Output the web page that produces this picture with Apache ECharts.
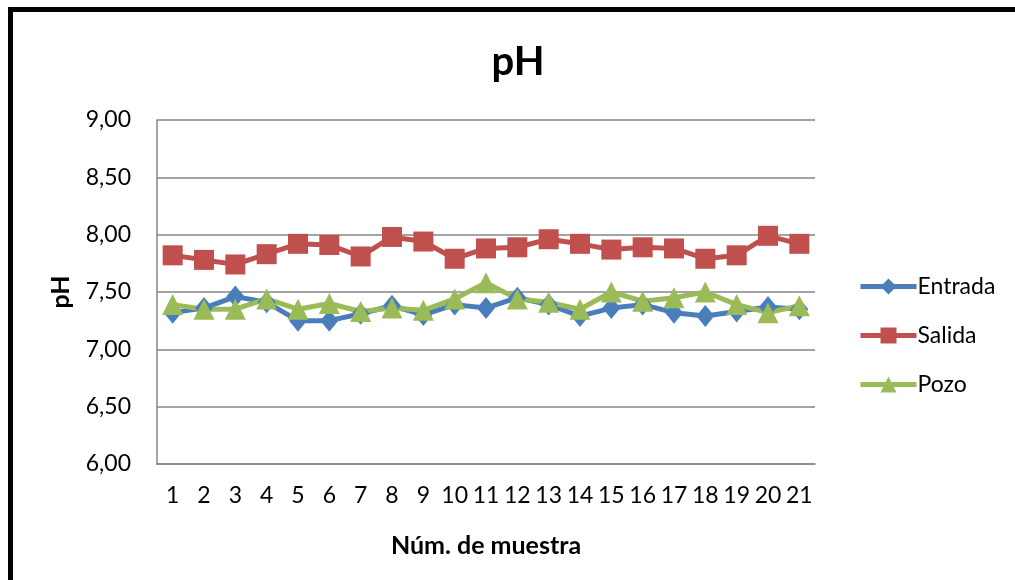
<!DOCTYPE html>
<html>
<head>
<meta charset="utf-8">
<script src="https://cdn.jsdelivr.net/npm/echarts@6/dist/echarts.min.js"></script>
<style>
  html, body { margin: 0; padding: 0; background: #fff; }
  #chart { width: 1015px; height: 580px; }
</style>
</head>
<body>
<div id="chart"></div>
<script>
const muestras = ['1','2','3','4','5','6','7','8','9','10','11','12','13','14','15','16','17','18','19','20','21'];
const entrada = [7.32, 7.36, 7.46, 7.41, 7.25, 7.25, 7.31, 7.38, 7.30, 7.39, 7.36, 7.45, 7.39, 7.29, 7.36, 7.39, 7.32, 7.29, 7.33, 7.37, 7.35];
const salida = [7.82, 7.78, 7.74, 7.83, 7.92, 7.91, 7.81, 7.98, 7.94, 7.79, 7.88, 7.89, 7.96, 7.92, 7.87, 7.89, 7.88, 7.79, 7.82, 7.99, 7.92];
const pozo = [7.39, 7.35, 7.35, 7.44, 7.35, 7.40, 7.33, 7.36, 7.34, 7.44, 7.58, 7.44, 7.41, 7.35, 7.50, 7.42, 7.45, 7.50, 7.39, 7.32, 7.38];

const font = 'Lato, "Open Sans", sans-serif';
const chart = echarts.init(document.getElementById('chart'));

function serie(name, data, color, symbol, size) {
  return {
    name: name,
    type: 'line',
    data: data,
    symbol: symbol,
    symbolSize: size,
    showAllSymbol: true,
    lineStyle: { color: color, width: 5 },
    itemStyle: { color: color },
    emphasis: { disabled: true }
  };
}

chart.setOption({
  animation: false,
  textStyle: { fontFamily: font },
  title: {
    text: 'pH',
    left: 513,
    textAlign: 'center',
    top: 37,
    textStyle: { fontSize: 40, fontWeight: 'bold', color: '#000', fontFamily: font }
  },
  graphic: [{
    type: 'rect',
    shape: { x: 10.5, y: 9.5, width: 1100, height: 700 },
    style: { fill: 'none', stroke: '#000', lineWidth: 5 }
  }],
  legend: {
    orient: 'vertical',
    left: 853,
    top: 270,
    itemWidth: 56,
    itemHeight: 20,
    itemGap: 26,
    lineStyle: { width: 5 },
    textStyle: { fontSize: 23, color: '#000', fontFamily: font, padding: [0, 0, 0, -4] },
    data: ['Entrada', 'Salida', 'Pozo']
  },
  grid: { left: 157, right: 200, top: 120, bottom: 116, containLabel: false },
  xAxis: {
    type: 'category',
    data: muestras,
    name: 'Núm. de muestra',
    nameLocation: 'middle',
    nameGap: 69,
    nameTextStyle: { fontSize: 25, fontWeight: 'bold', color: '#000', fontFamily: font },
    axisLine: { lineStyle: { color: '#868686', width: 1.5 } },
    axisTick: { show: false },
    axisLabel: { fontSize: 23, color: '#000', margin: 20, interval: 0, fontFamily: font }
  },
  yAxis: {
    type: 'value',
    min: 6,
    max: 9,
    interval: 0.5,
    name: 'pH',
    nameLocation: 'middle',
    nameRotate: 90,
    nameGap: 84,
    nameTextStyle: { fontSize: 25, fontWeight: 'bold', color: '#000', fontFamily: font },
    axisLine: { show: true, lineStyle: { color: '#868686', width: 1.5 } },
    axisTick: { show: false },
    splitLine: { lineStyle: { color: '#868686', width: 1.5 } },
    axisLabel: {
      fontSize: 23,
      color: '#000',
      margin: 26,
      fontFamily: font,
      formatter: v => v.toFixed(2).replace('.', ',')
    }
  },
  series: [
    serie('Entrada', entrada, '#4A7EBB', 'diamond', [18, 22]),
    serie('Salida', salida, '#C0504D', 'rect', 20),
    serie('Pozo', pozo, '#9BBB59', 'triangle', 21)
  ]
});
</script>
</body>
</html>
